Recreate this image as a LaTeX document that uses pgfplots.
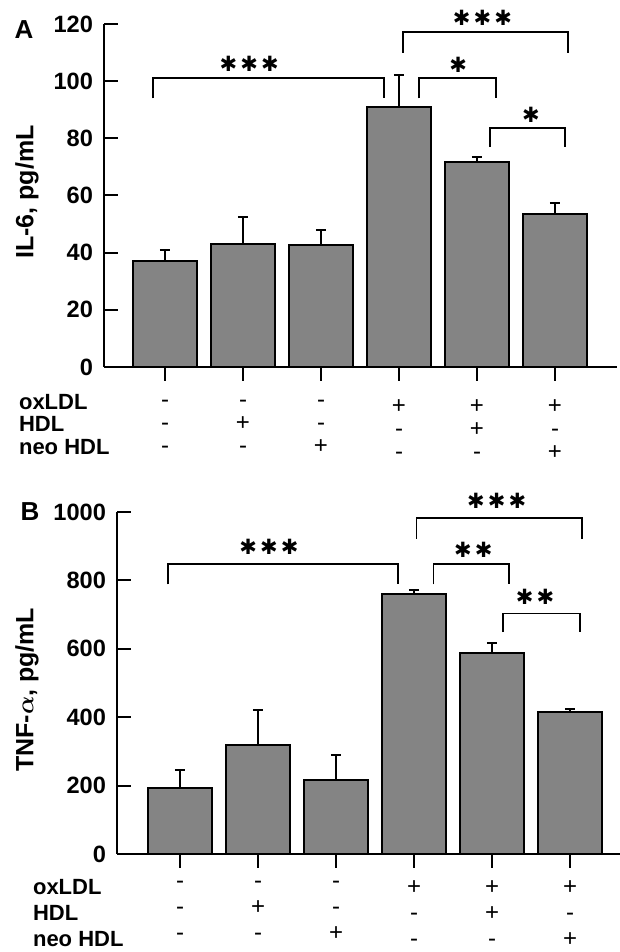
\documentclass[border=0pt]{standalone}
\usepackage{amsmath}
\usepackage{fontspec}
\setmainfont{Liberation Sans}
\newfontfamily\starfont{DejaVu Sans}[BoldFont={DejaVu Sans Bold}]
\usepackage{pgfplots}
\pgfplotsset{compat=1.18}

\definecolor{barfill}{RGB}{132,132,132}

\pgfplotsset{
  panel/.style={
    scale only axis,
    anchor=south west,
    ybar,
    bar width=0.81,
    axis x line=bottom,
    axis y line=left,
    axis line style={-, line width=1pt},
    xtick={1,...,6},
    xtick align=outside,
    ytick align=inside,
    major tick length=7pt,
    every tick/.style={black, line width=1pt},
    clip=false,
    /pgf/number format/assume math mode=true,
    /pgf/number format/1000 sep={},
    yticklabel style={font=\fontsize{11.8}{12}\selectfont\bfseries, xshift=-2pt},
    xticklabel style={align=center, anchor=north, font=\fontsize{12}{11.5}\selectfont},
    xticklabels={{-\\-\\-},{-\\+\\-},{-\\-\\+},{+\\-\\-},{+\\+\\-},{+\\-\\+}},
    ylabel style={font=\fontsize{12.5}{13}\selectfont\bfseries},
  },
  bars/.style={
    fill=barfill, draw=black, line width=1pt,
    error bars/.cd, y dir=plus, y explicit,
    error bar style={line width=1pt, black},
    error mark options={rotate=90, mark size=2.6pt, line width=1pt, black},
  },
  bracket/.style={black, line width=0.9pt, sharp plot, no marks, forget plot},
}
\newcommand{\st}{{\starfont\fontsize{10.5}{11}\selectfont\bfseries ✱}}
\newcommand{\sts}{\st\kern1.6pt\st}
\newcommand{\stss}{\st\kern1.6pt\st\kern1.6pt\st}

\begin{document}
\begin{tikzpicture}
\useasboundingbox (0,0) rectangle (310pt,476pt);

% ---- panel A: IL-6
\begin{axis}[panel,
  at={(52pt,292.5pt)}, width=256.5pt, height=171.5pt,
  xmin=0.218, xmax=6.795, ymin=0, ymax=120,
  ytick={0,20,...,120},
  ylabel={IL-6, pg/mL},
  ylabel style={at={(axis description cs:-0.150,0.51)}, anchor=center},
  xticklabel style={yshift=-6pt},
]
\addplot[bars] table[x=x, y=y, y error=e] {
x y e
1 37.0 3.9
2 43.0 9.5
3 42.7 5.4
4 91.1 11.1
5 71.7 1.9
6 53.4 3.8
};
\addplot[bracket] coordinates {(0.85,94) (0.85,101) (3.81,101) (3.81,94)};
\addplot[bracket] coordinates {(4.26,94) (4.26,101) (5.24,101) (5.24,94)};
\addplot[bracket] coordinates {(4.05,110) (4.05,117.1) (6.17,117.1) (6.17,110)};
\addplot[bracket] coordinates {(5.17,77) (5.17,83.5) (6.13,83.5) (6.13,77)};
\node[inner sep=0pt] at (axis cs:2.08,106.2) {\stss};
\node[inner sep=0pt] at (axis cs:4.76,105.7) {\st};
\node[inner sep=0pt] at (axis cs:5.07,122) {\stss};
\node[inner sep=0pt] at (axis cs:5.69,88.1) {\st};
\end{axis}
\node[font=\fontsize{13}{13}\selectfont\bfseries] at (12pt,461pt) {A};
\node[anchor=west, font=\fontsize{11}{11}\selectfont\bfseries] at (6pt,275pt) {oxLDL};
\node[anchor=west, font=\fontsize{11}{11}\selectfont\bfseries] at (6pt,264pt) {HDL};
\node[anchor=west, font=\fontsize{11}{11}\selectfont\bfseries] at (6pt,252.5pt) {neo HDL};

% ---- panel B: TNF-alpha
\begin{axis}[panel,
  at={(58.5pt,49pt)}, width=251.5pt, height=171pt,
  xmin=0.192, xmax=6.64, ymin=0, ymax=1000,
  ytick={0,200,...,1000},
  ylabel={TNF-$\boldsymbol{\alpha}$, pg/mL},
  ylabel style={at={(axis description cs:-0.179,0.48)}, anchor=center},
  xticklabel style={font=\fontsize{12}{13}\selectfont, yshift=-3pt},
]
\addplot[bars] table[x=x, y=y, y error=e] {
x y e
1 192 55
2 320 100
3 216 73
4 761 12
5 588 30
6 414 11
};
\addplot[bracket] coordinates {(0.85,788) (0.85,849) (3.79,849) (3.79,788)};
\addplot[bracket] coordinates {(4.25,788) (4.25,849) (5.22,849) (5.22,788)};
\addplot[bracket] coordinates {(4.03,922) (4.03,983.6) (6.15,983.6) (6.15,922)};
\addplot[bracket] coordinates {(5.14,649) (5.14,703) (6.13,703) (6.13,649)};
\node[inner sep=0pt] at (axis cs:2.14,898) {\stss};
\node[inner sep=0pt] at (axis cs:4.76,890) {\sts};
\node[inner sep=0pt] at (axis cs:5.06,1032) {\stss};
\node[inner sep=0pt] at (axis cs:5.55,752) {\sts};
\end{axis}
\node[font=\fontsize{13}{13}\selectfont\bfseries] at (15pt,220pt) {B};
\node[anchor=west, font=\fontsize{11}{11}\selectfont\bfseries] at (13pt,32.5pt) {oxLDL};
\node[anchor=west, font=\fontsize{11}{11}\selectfont\bfseries] at (13pt,19.5pt) {HDL};
\node[anchor=west, font=\fontsize{11}{11}\selectfont\bfseries] at (13pt,6.5pt) {neo HDL};
\end{tikzpicture}
\end{document}
